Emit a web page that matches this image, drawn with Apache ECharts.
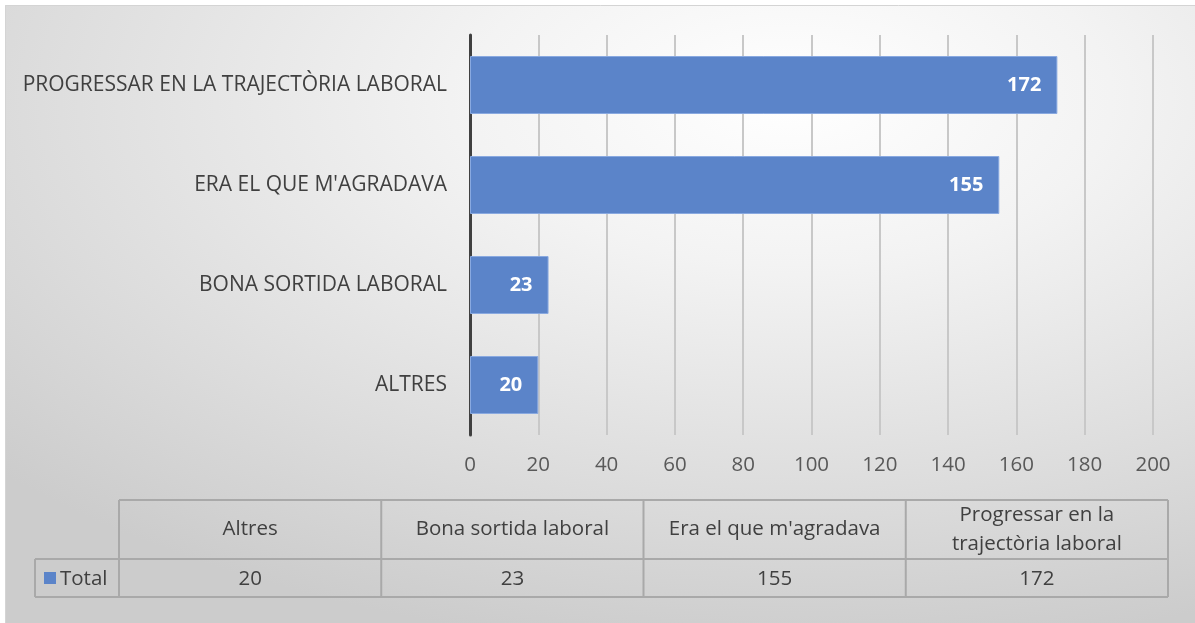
<!DOCTYPE html>
<html><head><meta charset="utf-8">
<script src="https://cdn.jsdelivr.net/npm/echarts@6/dist/echarts.min.js"></script>
<style>html,body{margin:0;padding:0;background:#fff}#c{width:1195px;height:623px}</style>
</head><body><div id="c"></div>
<script>
const categories = ['ALTRES', 'BONA SORTIDA LABORAL', "ERA EL QUE M'AGRADAVA", 'PROGRESSAR EN LA TRAJECTÒRIA LABORAL'];
const tableHeaders = ['Altres', 'Bona sortida laboral', "Era el que m'agradava", 'Progressar en la\ntrajectòria laboral'];
const seriesName = 'Total';
const values = [20, 23, 155, 172];
const xTicks = [0, 20, 40, 60, 80, 100, 120, 140, 160, 180, 200];

const FONT = 'Open Sans';
const BAR = '#5b84c9';
const TXT = '#404040';
const FS = 20.5;

// table layout
const tLeft = 119, tRight = 1168, hTop = 500, hBot = 559, vBot = 597, legLeft = 35;
const colW = (tRight - tLeft) / tableHeaders.length;
const LINE = '#a9a9a9';
const g = [];
// background with elliptical radial gradient
const bgW = 1190, bgH = 618;
g.push({type:'rect', z:-100, x:5, y:5, scaleX: bgW/bgH, shape:{x:0,y:0,width:bgH,height:bgH},
  style:{fill:{type:'radial', x:0.66, y:0.15, r:0.9, colorStops:[
    {offset:0,color:'#ffffff'},{offset:0.3,color:'#f3f3f3'},{offset:0.7,color:'#dddddd'},{offset:1,color:'#cccccc'}]}}, silent:true});
g.push({type:'rect', z:-99, shape:{x:5.5,y:5.5,width:1195,height:623}, style:{fill:null, stroke:'#d4d4d4', lineWidth:1}, silent:true});
function ln(x1,y1,x2,y2){ g.push({type:'line', z:50, shape:{x1,y1,x2,y2}, style:{stroke:LINE, lineWidth:2}, silent:true}); }
ln(tLeft, hTop, tRight, hTop);
ln(legLeft, hBot, tRight, hBot);
ln(legLeft, vBot, tRight, vBot);
ln(legLeft, hBot, legLeft, vBot);
for (let i = 0; i <= tableHeaders.length; i++) ln(tLeft + i*colW, hTop, tLeft + i*colW, vBot);
tableHeaders.forEach((h, i) => {
  g.push({type:'text', z:51, x: tLeft + (i+0.5)*colW, y:(hTop+hBot)/2,
    style:{text:h, fill:TXT, font:FS+'px "'+FONT+'"', align:'center', verticalAlign:'middle', lineHeight:29}});
  g.push({type:'text', z:51, x: tLeft + (i+0.5)*colW, y:(hBot+vBot)/2+1,
    style:{text:String(values[i]), fill:TXT, font:FS+'px "'+FONT+'"', align:'center', verticalAlign:'middle'}});
});
g.push({type:'rect', z:51, shape:{x:44,y:572,width:12,height:12}, style:{fill:BAR}});
g.push({type:'text', z:51, x:60, y:(hBot+vBot)/2+1, style:{text:seriesName, fill:TXT, font:FS+'px "'+FONT+'"', align:'left', verticalAlign:'middle'}});

const chart = echarts.init(document.getElementById('c'), null, {renderer:'canvas'});
chart.setOption({
  backgroundColor: '#ffffff',
  animation: false,
  textStyle: {fontFamily: FONT},
  grid: {left: 470, right: 42, top: 35, height: 400},
  xAxis: {type:'value', min: xTicks[0], max: xTicks[xTicks.length-1], interval: xTicks[1]-xTicks[0],
    axisLine:{show:false}, axisTick:{show:false},
    axisLabel:{color:'#595959', fontSize:FS, margin:20, fontFamily:FONT},
    splitLine:{show:true, lineStyle:{color:'#c8c8c8', width:2}}},
  yAxis: {type:'category', data: categories,
    axisLine:{show:true, onZero:false, lineStyle:{color:'#404040', width:3}},
    axisTick:{show:false},
    axisLabel:{color:TXT, fontSize:21, margin:23, fontFamily:FONT}},
  series: [{name: seriesName, type:'bar', data: values, barWidth: 58,
    itemStyle:{color: BAR, borderColor:'#89a9e0', borderWidth:1},
    label:{show:true, position:'insideRight', distance:16, color:'#ffffff', fontWeight:'bold', fontSize:20, fontFamily:FONT}}],
  graphic: g
});
</script></body></html>
